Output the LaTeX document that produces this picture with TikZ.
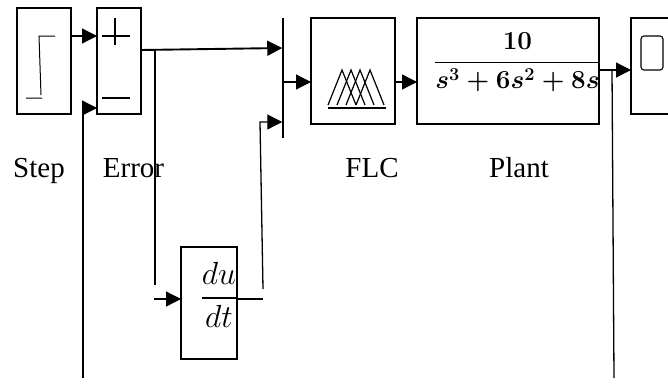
\documentclass[tikz,border=0pt]{standalone}
\usepackage{fix-cm}
\usepackage{amsmath}
\usepackage{amssymb}
\usepackage{fontspec}
\setmainfont{Liberation Serif}
\usepackage{tikz}
\usetikzlibrary{positioning,arrows.meta}
\tikzset{
  block/.style={draw, line width=1.1pt, inner sep=0pt, outer sep=0pt},
  conn/.style={line width=1.3pt, -{Triangle[length=15pt,width=15pt]}},
  wire/.style={line width=1.3pt},
  caption/.style={font=\fontsize{29}{32}\selectfont, anchor=base},
}
\begin{document}
\begin{tikzpicture}[x=1pt,y=-1pt,node distance=26pt]
   \useasboundingbox (0,0) rectangle (668,388);
   \node[block, minimum width=54pt, minimum height=106pt] (step) at (44,61) {};
   \node[block, minimum width=44pt, minimum height=106pt] (error) [right=26pt of step] {};
   \node[fill, inner sep=0pt, outer sep=0pt, minimum width=1.5pt, minimum height=120pt] (mux) at (283,78) {};
   \node[block, minimum width=84pt, minimum height=106pt] (flc) at (353,71) {};
   \node[block, minimum width=182pt, minimum height=106pt] (plant) [right=22pt of flc] {};
   \node[block, minimum width=80pt, minimum height=96pt, anchor=west] (disp) at (631,66) {};
   \node[block, minimum width=56pt, minimum height=112pt] (dudt) at (209,303) {};
   % block contents
   \draw[wire, line width=1pt] (55,36) -- (39,36) -- (41,95) (26,98) -- (42,98);
   \draw[wire] (102,36) -- (130,36) (115,18) -- (115,45) (102,98) -- (130,98);
   \draw[wire] (328,108) -- (385.7,108);
   \foreach \p in {342,351,360,370}
     \draw[line width=1.2pt] (\p-14,105) -- (\p,70) -- (\p+14,105);
   \draw[line width=1.1pt, rounded corners=3pt] (641,36) rectangle (663,70);
   \node[font=\fontsize{26}{30}\selectfont, inner sep=0pt] (tf) at (517.5,62) {\mbox{\boldmath$\dfrac{10}{s^3+6s^2+8s}$}};
   \node[font=\fontsize{32}{36}\selectfont, inner sep=0pt] (du) at (219,295) {$\dfrac{du}{dt}$};
   % labels
   \node[caption] (l_step) at (39,177) {Step};
   \node[caption] (l_error) at (133.5,177) {Error};
   \node[caption] (l_flc) at (372,177) {FLC};
   \node[caption] (l_plant) at (519,177) {Plant};
   % free ends
   \coordinate (fb_end) at (83,378);
   \coordinate (br_top) at (155,49);
   \coordinate (br_end) at (155,285);
   \coordinate (d_start) at (154,299);
   \coordinate (d_out) at (263,299);
   \coordinate (m_start) at (263,289);
   \coordinate (m_bend) at (260,122);
   \coordinate (y_top) at (612,70);
   \coordinate (y_end) at (614,378);
   % connectors
   \draw[conn] ([yshift=25pt]step.east) -- ([yshift=25pt]error.west);
   \draw[conn] (fb_end) |- ([yshift=-47pt]error.west);
   \draw[conn, line width=1.9pt] ([yshift=11pt]error.east) -- ([yshift=30pt]mux.west);
   \draw[wire] (br_top) -- (br_end);
   \draw[conn] (d_start) -- ([yshift=4pt]dudt.west);
   \draw[wire] ([yshift=4pt]dudt.east) -- (d_out);
   \draw[conn] (m_start) -- (m_bend) -- ([yshift=-44pt]mux.west);
   \draw[conn] ([yshift=-4pt]mux.east) -- ([yshift=-11pt]flc.west);
   \draw[conn] ([yshift=-11pt]flc.east) -- ([yshift=-11pt]plant.west);
   \draw[conn] ([yshift=1pt]plant.east) -- (disp.west |- y_top);
   \draw[wire] (y_top) -- (y_end);
\end{tikzpicture}
\end{document}
